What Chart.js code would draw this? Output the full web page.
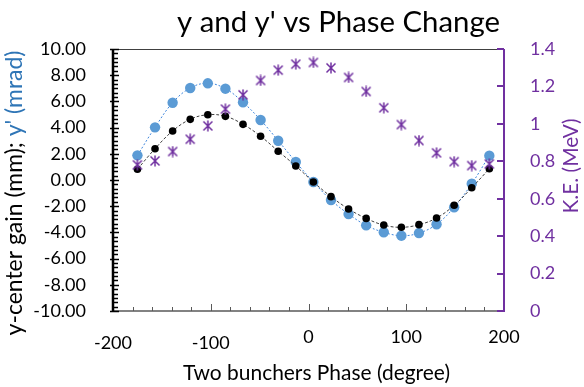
<!DOCTYPE html>
<html>
<head>
<meta charset="utf-8">
<script src="https://cdn.jsdelivr.net/npm/chart.js@4.4.0/dist/chart.umd.min.js"></script>
<style>
  html, body { margin: 0; padding: 0; background: #fff; }
  #wrap { width: 584px; height: 387px; }
</style>
</head>
<body>
<div id="wrap"><canvas id="chart" width="584" height="387"></canvas></div>
<script>
// phase of the two bunchers (degree)
const phase  = [-175, -157, -139, -121, -103, -85, -67, -49, -31, -13, 5, 23, 41, 59, 77, 95, 113, 131, 149, 167, 185];
// y-center gain (mm)
const yGain  = [0.82, 2.39, 3.74, 4.63, 4.98, 4.86, 4.25, 3.34, 2.20, 1.07, -0.15, -1.27, -2.21, -2.93, -3.44, -3.61, -3.41, -2.90, -1.93, -0.59, 0.86];
// y' (mrad)
const yPrime = [1.88, 4.02, 5.90, 7.02, 7.38, 6.97, 5.93, 4.58, 3.00, 1.38, -0.15, -1.53, -2.60, -3.46, -3.99, -4.25, -4.05, -3.38, -2.08, -0.28, 1.86];
// K.E. (MeV)
const ke     = [0.781, 0.802, 0.852, 0.918, 0.989, 1.079, 1.155, 1.232, 1.287, 1.319, 1.328, 1.299, 1.248, 1.173, 1.086, 0.996, 0.911, 0.845, 0.798, 0.777, 0.786];

const xTicks     = [-200, -100, 0, 100, 200];
const leftTicks  = [-10, -8, -6, -4, -2, 0, 2, 4, 6, 8, 10];
const rightTicks = [0, 0.2, 0.4, 0.6, 0.8, 1, 1.2, 1.4];

const FONT   = 'Lato, "Open Sans", sans-serif';
const PURPLE = '#7030A0';
const BLUE   = '#5B9BD5';

function starMarker() {
  const c = document.createElement('canvas');
  c.width = 12; c.height = 12;
  const g = c.getContext('2d');
  g.strokeStyle = PURPLE;
  g.lineWidth = 1.5;
  g.beginPath();
  g.moveTo(1.5, 1.5); g.lineTo(10.5, 10.5);
  g.moveTo(10.5, 1.5); g.lineTo(1.5, 10.5);
  g.moveTo(6, 0.5); g.lineTo(6, 11.5);
  g.stroke();
  return c;
}

const pts = vals => phase.map((x, i) => ({ x: x, y: vals[i] }));
const fixTicks = list => scale => { scale.ticks = list.map(v => ({ value: v })); };

// set the font so that the text takes the given width
function fitFont(ctx, text, width) {
  ctx.font = '20px ' + FONT;
  const size = 20 * width / ctx.measureText(text).width;
  ctx.font = size.toFixed(2) + 'px ' + FONT;
}

// axes lines, tick marks, x labels and all titles
const decor = {
  id: 'decor',
  beforeDatasetsDraw(chart) {
    const { ctx, chartArea: a, scales } = chart;
    ctx.save();

    ctx.strokeStyle = '#404040';
    ctx.lineWidth = 1;
    ctx.beginPath(); ctx.moveTo(a.left, a.top + 0.5); ctx.lineTo(a.right, a.top + 0.5); ctx.stroke();

    // bottom axis
    ctx.strokeStyle = '#595959';
    ctx.lineWidth = 1.5;
    ctx.beginPath(); ctx.moveTo(a.left, a.bottom); ctx.lineTo(a.right, a.bottom); ctx.stroke();
    ctx.lineWidth = 1;
    for (let v = -180; v < 200; v += 20) {
      const px = Math.round(scales.x.getPixelForValue(v)) + 0.5;
      const len = (v % 100 === 0) ? 7 : 4;
      ctx.beginPath(); ctx.moveTo(px, a.bottom); ctx.lineTo(px, a.bottom - len); ctx.stroke();
    }

    // left axis
    ctx.strokeStyle = '#000';
    ctx.lineWidth = 1.5;
    for (let k = 0; k <= 60; k++) {
      const py = Math.round(scales.y.getPixelForValue(-10 + k / 3)) + 0.5;
      const inLen = (k % 6 === 0) ? 6 : 5;
      const outLen = (k % 6 === 0) ? 3 : 1;
      ctx.beginPath(); ctx.moveTo(a.left - outLen, py); ctx.lineTo(a.left + inLen, py); ctx.stroke();
    }
    ctx.lineWidth = 2.5;
    ctx.beginPath(); ctx.moveTo(a.left, a.top); ctx.lineTo(a.left, a.bottom + 1); ctx.stroke();

    // right axis
    ctx.strokeStyle = PURPLE;
    ctx.lineWidth = 2;
    ctx.beginPath(); ctx.moveTo(a.right, a.top); ctx.lineTo(a.right, a.bottom + 1); ctx.stroke();
    rightTicks.forEach(v => {
      const py = Math.round(scales.y2.getPixelForValue(v));
      ctx.beginPath(); ctx.moveTo(a.right, py); ctx.lineTo(a.right - 7, py); ctx.stroke();
    });

    // x tick labels (negative ones sit a little lower, as in the original)
    ctx.fillStyle = '#000';
    ctx.textAlign = 'center';
    ctx.textBaseline = 'alphabetic';
    ctx.font = '18px ' + FONT;
    xTicks.forEach(v => {
      ctx.fillText(String(v), scales.x.getPixelForValue(v), v < 0 ? 349 : 343);
    });

    // titles
    fitFont(ctx, "y and y' vs Phase Change", 323);
    ctx.fillText("y and y' vs Phase Change", 338.5, 32);

    fitFont(ctx, 'Two bunchers Phase (degree)', 267);
    ctx.fillText('Two bunchers Phase (degree)', 316.5, 380);

    ctx.save();
    ctx.translate(578, 166);
    ctx.rotate(-Math.PI / 2);
    ctx.fillStyle = PURPLE;
    fitFont(ctx, 'K.E. (MeV)', 95);
    ctx.fillText('K.E. (MeV)', 0, 0);
    ctx.restore();

    ctx.save();
    ctx.translate(22, 193);
    ctx.rotate(-Math.PI / 2);
    ctx.textAlign = 'left';
    const p1 = 'y-center gain (mm); ', p2 = "y' (mrad)";
    fitFont(ctx, p1 + p2, 285);
    const w1 = ctx.measureText(p1).width, w2 = ctx.measureText(p2).width;
    const start = -(w1 + w2) / 2;
    ctx.fillStyle = '#000';
    ctx.fillText(p1, start, 0);
    ctx.fillStyle = '#2E75B6';
    ctx.fillText(p2, start + w1, 0);
    ctx.restore();

    ctx.restore();
  }
};

new Chart(document.getElementById('chart'), {
  type: 'scatter',
  data: {
    datasets: [
      {
        label: 'K.E.',
        data: pts(ke),
        yAxisID: 'y2',
        showLine: false,
        pointStyle: starMarker(),
        order: 0
      },
      {
        label: 'y-center gain',
        data: pts(yGain),
        yAxisID: 'y',
        showLine: true,
        tension: 0.4,
        borderColor: '#404040',
        borderWidth: 1,
        borderDash: [3, 2],
        pointRadius: 3.8,
        pointBackgroundColor: '#000',
        pointBorderColor: '#000',
        pointBorderWidth: 0,
        order: 1
      },
      {
        label: "y'",
        data: pts(yPrime),
        yAxisID: 'y',
        showLine: true,
        tension: 0.4,
        borderColor: '#3F86DC',
        borderWidth: 1,
        borderDash: [2, 2],
        pointRadius: 5.2,
        pointBackgroundColor: BLUE,
        pointBorderColor: BLUE,
        pointBorderWidth: 0,
        order: 2
      }
    ]
  },
  options: {
    responsive: false,
    devicePixelRatio: 1,
    animation: false,
    layout: { padding: { top: 49, left: 0, right: 0, bottom: 0 } },
    plugins: { legend: { display: false }, tooltip: { enabled: false } },
    scales: {
      x: {
        type: 'linear',
        position: 'bottom',
        min: -200, max: 200,
        afterBuildTicks: fixTicks(xTicks),
        afterFit: s => { s.height = 76; },
        grid: { display: false },
        border: { display: false },
        ticks: { display: false }
      },
      y: {
        position: 'left',
        min: -10, max: 10,
        afterBuildTicks: fixTicks(leftTicks),
        afterFit: s => { s.width = 113; },
        grid: { display: false },
        border: { display: false },
        ticks: { padding: 19, color: '#000', font: { family: FONT, size: 18 }, callback: v => v.toFixed(2) }
      },
      y2: {
        position: 'right',
        min: 0, max: 1.4,
        afterBuildTicks: fixTicks(rightTicks),
        afterFit: s => { s.width = 80; },
        grid: { display: false },
        border: { display: false },
        ticks: { padding: 18, color: PURPLE, font: { family: FONT, size: 18 }, callback: v => String(v) }
      }
    }
  },
  plugins: [decor]
});
</script>
</body>
</html>
